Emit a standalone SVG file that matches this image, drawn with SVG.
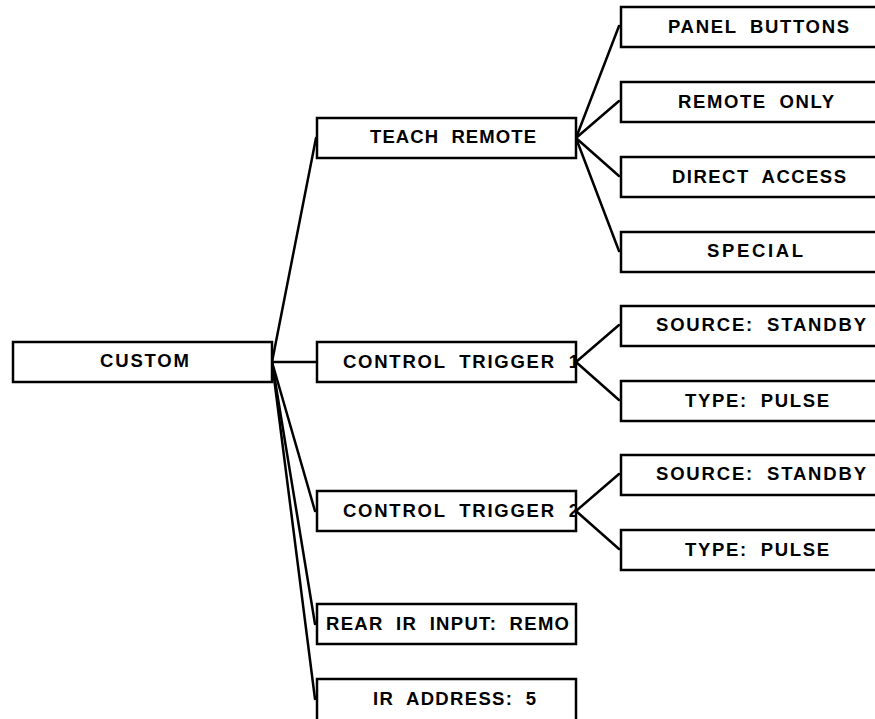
<svg xmlns="http://www.w3.org/2000/svg" width="875" height="719" viewBox="0 0 875 719">
<style>
.box{fill:#fff;stroke:#000;stroke-width:2.5}
.lbl{font-family:"Liberation Sans",Arial,sans-serif;font-weight:bold;font-size:18.5px;fill:#000;word-spacing:6px}
.con line{stroke:#000;stroke-width:2.5;stroke-linecap:round}
</style>
<defs>
<clipPath id="clipMid"><rect x="318" y="0" width="257" height="719"/></clipPath>
</defs>
<rect width="875" height="719" fill="#fff"/>
<g id="connectors" class="con">
<line x1="272" y1="362" x2="316" y2="138"/>
<line x1="272" y1="362" x2="317" y2="362"/>
<line x1="272" y1="362" x2="315" y2="511"/>
<line x1="272" y1="362" x2="315" y2="624"/>
<line x1="272" y1="362" x2="315" y2="699"/>
<line x1="576" y1="138" x2="619" y2="26"/>
<line x1="576" y1="138" x2="619" y2="101"/>
<line x1="576" y1="138" x2="619" y2="176"/>
<line x1="576" y1="138" x2="619" y2="251"/>
<line x1="576" y1="362" x2="619" y2="325"/>
<line x1="576" y1="362" x2="619" y2="400"/>
<line x1="576" y1="511" x2="619" y2="474"/>
<line x1="576" y1="511" x2="619" y2="549"/>
</g>
<g id="custom"><rect class="box" x="13" y="342" width="259" height="40"/><text class="lbl" x="100" y="367" textLength="89" lengthAdjust="spacing">CUSTOM</text></g>
<g id="teach-remote"><rect class="box" x="317" y="118" width="259" height="40"/><text class="lbl" x="370" y="143" textLength="166" lengthAdjust="spacing">TEACH REMOTE</text></g>
<g id="control-trigger-1"><rect class="box" x="317" y="342" width="259" height="40"/><text class="lbl" x="343" y="368" textLength="236" lengthAdjust="spacing" clip-path="url(#clipMid)">CONTROL TRIGGER 1</text></g>
<g id="control-trigger-2"><rect class="box" x="317" y="491" width="259" height="40"/><text class="lbl" x="343" y="517" textLength="236" lengthAdjust="spacing" clip-path="url(#clipMid)">CONTROL TRIGGER 2</text></g>
<g id="rear-ir-input"><rect class="box" x="317" y="604" width="259" height="40"/><text class="lbl" x="326" y="630" textLength="243" lengthAdjust="spacing">REAR IR INPUT: REMO</text></g>
<g id="ir-address"><rect class="box" x="317" y="679" width="259" height="42"/><text class="lbl" x="373" y="705" textLength="163" lengthAdjust="spacing">IR ADDRESS: 5</text></g>
<g id="panel-buttons"><rect class="box" x="621" y="7" width="259" height="40"/><text class="lbl" x="668" y="33" textLength="181" lengthAdjust="spacing">PANEL BUTTONS</text></g>
<g id="remote-only"><rect class="box" x="621" y="82" width="259" height="40"/><text class="lbl" x="678" y="108" textLength="156" lengthAdjust="spacing">REMOTE ONLY</text></g>
<g id="direct-access"><rect class="box" x="621" y="157" width="259" height="40"/><text class="lbl" x="672" y="183" textLength="174" lengthAdjust="spacing">DIRECT ACCESS</text></g>
<g id="special"><rect class="box" x="621" y="232" width="259" height="40"/><text class="lbl" x="707" y="257" textLength="96" lengthAdjust="spacing">SPECIAL</text></g>
<g id="source-standby-1"><rect class="box" x="621" y="306" width="259" height="40"/><text class="lbl" x="656" y="331" textLength="210" lengthAdjust="spacing">SOURCE: STANDBY</text></g>
<g id="type-pulse-1"><rect class="box" x="621" y="381" width="259" height="40"/><text class="lbl" x="685" y="407" textLength="144" lengthAdjust="spacing">TYPE: PULSE</text></g>
<g id="source-standby-2"><rect class="box" x="621" y="455" width="259" height="40"/><text class="lbl" x="656" y="480" textLength="210" lengthAdjust="spacing">SOURCE: STANDBY</text></g>
<g id="type-pulse-2"><rect class="box" x="621" y="530" width="259" height="40"/><text class="lbl" x="685" y="556" textLength="144" lengthAdjust="spacing">TYPE: PULSE</text></g>
</svg>
